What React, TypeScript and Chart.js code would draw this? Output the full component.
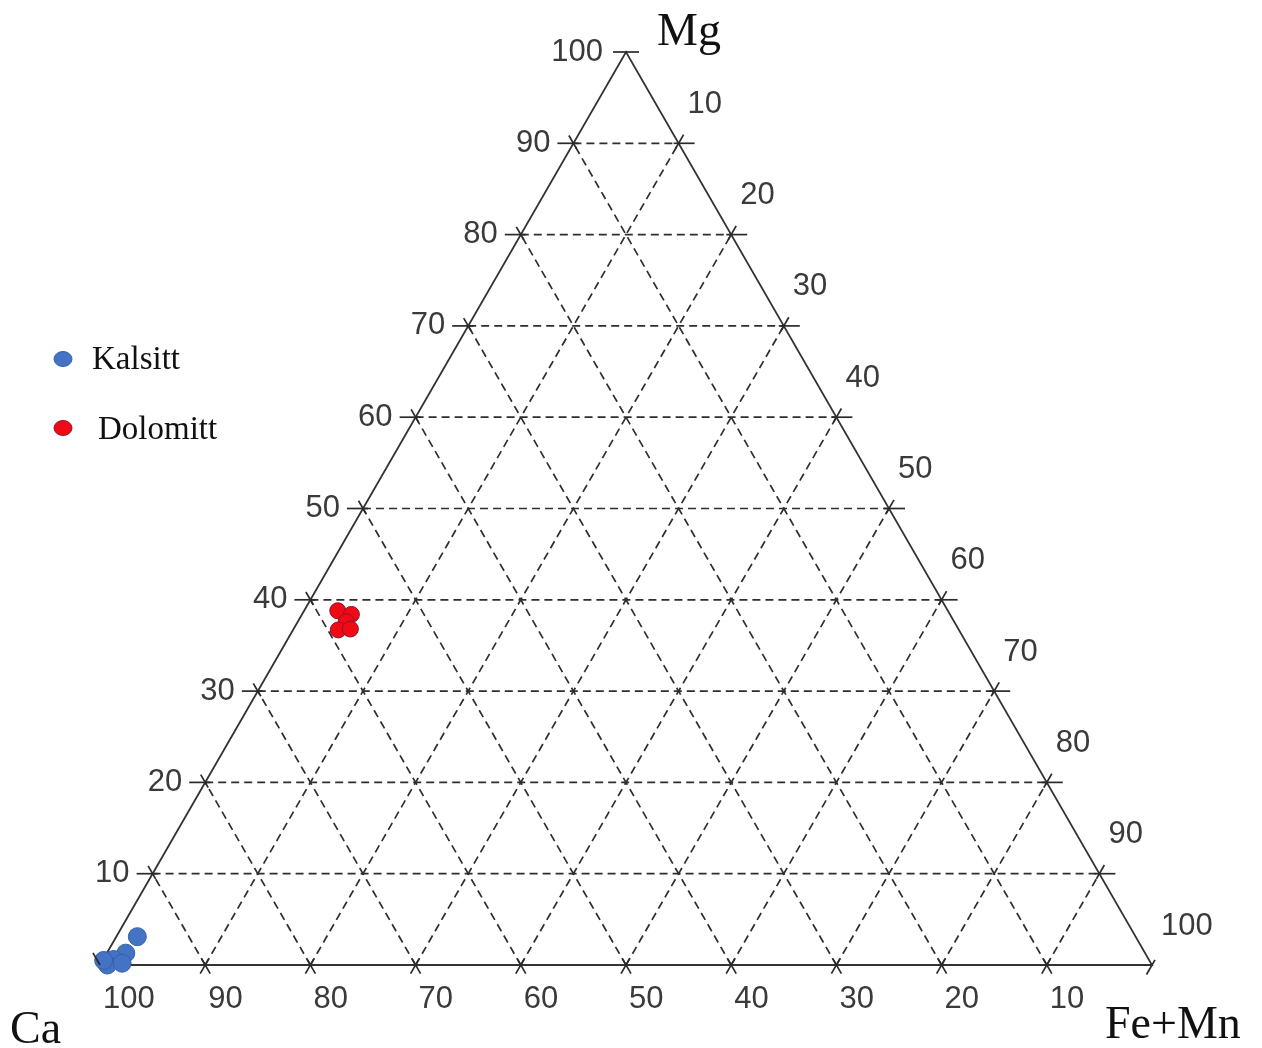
import React, { useEffect, useRef } from 'react';
import { Chart, registerables } from 'chart.js';

Chart.register(...registerables);

// Ternary data: Mg and Fe+Mn in percent; Ca = 100 - Mg - Fe
const kalsittMg = [3.1, 1.3, 0.6, 0.0, 0.2, 0.5];
const kalsittFe = [2.0, 1.8, 1.0, 0.7, 2.0, 0.1];
const dolomittMg = [38.8, 38.4, 37.6, 36.7, 36.8];
const dolomittFe = [3.2, 4.7, 4.6, 4.3, 5.4];

const seriesNames = ['Kalsitt', 'Dolomitt'];
const seriesColors = ['#4472C4', '#F00A14'];
const seriesBorders = ['#3560A8', '#8A1630'];
const gridLevels = [10, 20, 30, 40, 50, 60, 70, 80, 90];
const tickValues = [0, 10, 20, 30, 40, 50, 60, 70, 80, 90, 100];
const cornerLabels = { top: 'Mg', left: 'Ca', right: 'Fe+Mn' };

// cartesian mapping (x: Fe + Mg/2, y: Mg) used through the chart's scales
const toXY = (mg: number, fe: number) => ({ x: fe + mg / 2, y: mg });

const lineDs = (pts: { x: number; y: number }[], dashed: boolean) => ({
  type: 'scatter' as const,
  data: pts,
  showLine: true,
  borderColor: dashed ? '#2e2e2e' : '#333333',
  borderWidth: dashed ? 1.7 : 1.8,
  borderDash: dashed ? [8, 5] : [],
  pointRadius: 0,
  pointHoverRadius: 0,
  fill: false,
  order: 2,
  clip: false as any,
});

const overlay = {
  id: 'ternaryOverlay',
  afterDatasetsDraw(chart: any) {
    const { ctx } = chart;
    const xs = chart.scales.x;
    const ys = chart.scales.y;
    const P = (mg: number, fe: number) => [xs.getPixelForValue(fe + mg / 2), ys.getPixelForValue(mg)];
    const s = Math.sqrt(3) / 2;
    ctx.save();
    ctx.strokeStyle = '#2a2a2a';
    ctx.lineWidth = 1.7;
    ctx.setLineDash([]);
    const seg = (p: number[], dx: number, dy: number, a: number, b: number) => {
      ctx.beginPath();
      ctx.moveTo(p[0] + dx * a, p[1] + dy * a);
      ctx.lineTo(p[0] + dx * b, p[1] + dy * b);
      ctx.stroke();
    };
    for (const v of gridLevels) {
      // left edge
      const pl = P(v, 0);
      seg(pl, 1, 0, -16, 5);
      seg(pl, 0.5, s, -9, 6);
      // bottom edge
      const pb = P(0, v);
      seg(pb, 0.5, -s, -10, 7);
      seg(pb, -0.5, -s, -10, 7);
      // right edge
      const pr = P(v, 100 - v);
      seg(pr, 1, 0, -5, 16);
      seg(pr, 0.5, -s, -6, 10);
    }
    // apex
    seg(P(100, 0), 1, 0, -13, 13);
    // Ca vertex
    seg(P(0, 0), -0.5, -s, 0, 14);
    // Fe vertex
    seg(P(0, 100), 0.5, -s, -11, 6);

    // tick labels
    ctx.fillStyle = '#3a3a3a';
    ctx.font = '31px "Liberation Sans", Arial, sans-serif';
    ctx.textBaseline = 'middle';
    for (const v of tickValues) {
      if (v > 0) {
        const p = P(v, 0);
        ctx.textAlign = 'right';
        ctx.fillText(String(v), p[0] - 23, p[1]);
      }
      if (v < 100) {
        const pb = P(0, v);
        ctx.textAlign = 'left';
        ctx.fillText(String(100 - v), pb[0] + 3, pb[1] + 34);
        const pr = P(v, 100 - v);
        ctx.fillText(String(100 - v), pr[0] + 9, pr[1] - 39);
      }
    }

    // corner titles
    ctx.fillStyle = '#111';
    ctx.font = '46px "Liberation Serif", "Times New Roman", serif';
    ctx.textBaseline = 'alphabetic';
    ctx.textAlign = 'left';
    ctx.fillText(cornerLabels.top, 657, 45);
    ctx.fillText(cornerLabels.left, 10, 1043);
    ctx.fillText(cornerLabels.right, 1105, 1038);

    // legend
    const legendPos = [
      { cx: 63, cy: 359, tx: 92, ty: 369 },
      { cx: 63, cy: 428, tx: 98, ty: 439 },
    ];
    ctx.font = '33px "Liberation Serif", "Times New Roman", serif';
    seriesNames.forEach((name, i) => {
      const lp = legendPos[i];
      ctx.beginPath();
      ctx.ellipse(lp.cx, lp.cy, 9, 7.5, 0, 0, Math.PI * 2);
      ctx.fillStyle = seriesColors[i];
      ctx.fill();
      ctx.lineWidth = 1;
      ctx.strokeStyle = seriesBorders[i];
      ctx.stroke();
      ctx.fillStyle = '#111';
      ctx.fillText(name, lp.tx, lp.ty);
    });
    ctx.restore();
  },
};

export default function App() {
  const ref = useRef<HTMLCanvasElement>(null);
  useEffect(() => {
    if (!ref.current) return;
    const datasets: any[] = [];
    // triangle edges
    datasets.push(lineDs([toXY(0, 0), toXY(0, 100), toXY(100, 0), toXY(0, 0)], false));
    // dashed grid
    for (const k of gridLevels) {
      datasets.push(lineDs([toXY(k, 0), toXY(k, 100 - k)], true)); // Mg = k
      datasets.push(lineDs([toXY(0, k), toXY(100 - k, k)], true)); // Fe = k
      datasets.push(lineDs([toXY(0, 100 - k), toXY(100 - k, 0)], true)); // Ca = k
    }
    datasets.push({
      type: 'scatter',
      label: seriesNames[0],
      data: kalsittMg.map((m, i) => toXY(m, kalsittFe[i])),
      backgroundColor: seriesColors[0],
      borderColor: seriesBorders[0],
      borderWidth: 1,
      pointRadius: 9,
      order: 0,
      clip: false,
    });
    datasets.push({
      type: 'scatter',
      label: seriesNames[1],
      data: dolomittMg.map((m, i) => toXY(m, dolomittFe[i])),
      backgroundColor: seriesColors[1],
      borderColor: seriesBorders[1],
      borderWidth: 1,
      pointRadius: 8,
      order: 0,
      clip: false,
    });
    const chart = new Chart(ref.current, {
      type: 'scatter',
      data: { datasets },
      options: {
        animation: false,
        responsive: false,
        devicePixelRatio: 1,
        layout: { padding: { left: 100, right: 110, top: 52, bottom: 83 } },
        scales: {
          x: { type: 'linear', min: 0, max: 100, display: false },
          y: { type: 'linear', min: 0, max: 100, display: false },
        },
        plugins: { legend: { display: false }, tooltip: { enabled: false } },
        events: [],
      },
      plugins: [overlay],
    });
    return () => chart.destroy();
  }, []);
  return (
    <div style={{ position: 'absolute', left: 0, top: 0, width: 1262, height: 1048, background: '#fff' }}>
      <canvas ref={ref} width={1262} height={1048} style={{ display: 'block' }} />
    </div>
  );
}
